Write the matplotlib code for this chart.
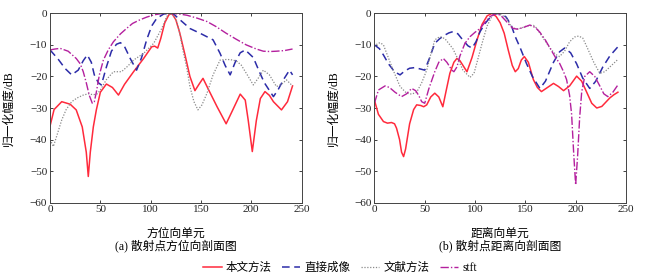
import numpy as np
import matplotlib
matplotlib.use('Agg')
import matplotlib.pyplot as plt

plt.rcParams['font.family'] = ['Liberation Serif', 'Noto Sans CJK SC']
plt.rcParams['axes.unicode_minus'] = False

# ---- (a) azimuth profile ----
a_red_x = [0, 4, 11.6, 20, 26, 32, 36, 38, 40, 43, 46, 50, 56, 62, 68, 74, 83, 93, 101, 104, 107, 110, 114, 118, 121,
           125, 129, 134, 139, 144, 148, 152, 158, 166, 175, 181, 189, 194, 197, 201, 205, 209, 213.6, 218, 222, 230, 236, 241]
a_red_y = [-35.7, -30.5, -28, -28.8, -30.6, -36, -44, -51.7, -44, -36, -30.6, -25, -22.4, -23.5, -25.9, -22.5, -18.5, -14.3, -10.6, -10.4, -11, -8, -3, -0.5, 0,
           -2, -6.3, -13, -20, -24.5, -22.5, -20.6, -24.5, -29.6, -35, -31, -25.6, -27.5, -34, -43.8, -34, -27, -24.8, -26, -28, -30.6, -28, -23]

a_blue_x = [0, 8, 15, 21.5, 28, 33, 37, 41, 44, 48, 51, 56, 61, 66, 70, 74, 80, 86, 91, 96, 101, 106, 113, 118, 122,
            129, 139, 149, 162, 169, 174, 179, 184, 189, 194, 202, 208, 213, 222, 227, 232, 238, 241]
a_blue_y = [-11.6, -14.5, -17.5, -19.5, -18, -15, -13.2, -15.5, -19.5, -22, -22.7, -17, -12, -9.8, -9.3, -10.5, -14.5, -18, -14, -8.4, -4, -1.6, -0.2, 0, 0,
            -2, -4.8, -6.3, -8.4, -12.7, -16.5, -19.5, -15.5, -12.5, -11.6, -14, -18.5, -22, -26.4, -24, -21, -18, -19.5]

a_gray_x = [0, 3.3, 7, 11.6, 16, 21.5, 27, 33, 38, 43, 47, 50, 56, 63, 71, 77, 83, 93, 103, 111, 116, 119,
            123, 126, 129, 132, 136, 139, 143, 147, 151, 156, 162, 169, 176, 182, 186, 190, 196, 202, 207, 212, 218, 225, 230, 235, 241]
a_gray_y = [-40, -42.2, -38.5, -33.8, -30.5, -28, -26.8, -25.9, -25.5, -25.8, -25.5, -24.3, -21, -18.5, -18.5, -16.8, -14.8, -12.7, -9.5, -4.8, -1, 0,
            -0.8, -2.6, -6.5, -11.6, -17.5, -23.2, -28, -30.6, -29, -25.3, -19.5, -14.8, -14.6, -14.8, -15.3, -16.4, -19.5, -22.7, -20.5, -18, -19.5, -23.2, -22.5, -21.1, -23]

a_stft_x = [0, 5, 10, 18, 26, 30, 33, 36, 39, 42, 44, 46, 49, 53, 58, 63, 70, 76, 82, 89, 96, 103, 110, 120,
            128, 136, 146, 156, 165, 175, 185, 195, 205, 212, 218.5, 225, 233, 241]
a_stft_y = [-11.6, -11.3, -11.1, -12, -14.3, -16, -18.5, -22, -26, -28.5, -28, -25, -19.5, -14.8, -11.5, -9, -6.5, -4.8, -3.2, -2.1, -1.2, -0.5, -0.1, 0,
            -0.2, -0.6, -1.5, -2.6, -4.2, -6.3, -8.2, -10, -11.3, -12, -12.1, -12, -11.8, -11.3]

# ---- (b) range profile ----
b_red_x = [0, 4, 9, 13, 17, 20, 22, 25, 27, 29, 31, 35, 39, 42, 46, 49, 52, 56, 60, 64, 68, 71, 75, 79, 82, 85, 88, 92,
           97, 102, 107, 112, 117, 121, 125, 129, 133, 137, 140, 143, 146, 149, 153, 158, 162, 166, 172, 178, 183, 188,
           194, 201, 206, 211, 216, 221, 226, 234, 238, 242]
b_red_y = [-27.5, -32, -34.3, -34.8, -34.6, -35, -36.4, -40, -44, -45.4, -43, -35, -30.5, -29, -29.2, -29.6, -29, -26.5, -25.3, -26.5, -29.6, -25, -19, -15.5, -14.3, -15, -16.5, -18.5,
           -14, -8.4, -3.5, -0.8, 0, -1, -3, -6.3, -11.6, -16.5, -18.5, -17.5, -14.8, -13.7, -15.5, -21, -23.5, -24.8, -23.5, -22.2, -23.2, -24.5,
           -23, -19.9, -21.5, -25, -28.5, -30, -29.5, -26.8, -25.8, -25]

b_blue_x = [0, 5, 9, 14, 20, 25.5, 30, 35, 40, 44, 50, 55, 60, 65, 70, 74, 78, 83, 88, 93, 97, 101, 105, 110, 115, 119, 123,
            127, 131, 136, 140, 145, 151, 157, 164.5, 170, 178, 184, 189, 195, 201, 207, 214, 220, 227, 234, 242]
b_blue_y = [-10, -11.2, -13.2, -16, -18.5, -19.5, -18.3, -17.4, -17.2, -17.5, -18, -14, -9.5, -8, -6.9, -6.2, -5.8, -6.5, -8.5, -10.3, -11, -9, -5.8, -3.2, -1.3, -0.3, 0,
            -0.3, -1.2, -3.8, -7.4, -11, -15.8, -20, -23.8, -21.5, -15.5, -12.2, -11, -12.5, -16, -20.5, -23.8, -21.5, -17, -13.5, -10.6]

b_gray_x = [0, 3, 5.6, 9, 12, 18, 25.5, 32, 37, 42, 47, 52, 56, 60, 65, 70, 78, 83, 88, 95, 99, 102, 107, 112, 117, 121.5,
            126, 130, 133, 136, 141, 146, 151, 158, 161, 167, 174.5, 180, 184, 189, 194, 199, 203, 207, 211, 218, 224, 229, 234, 242]
b_gray_y = [-10.6, -9.6, -9.3, -10, -12.5, -17.5, -23.2, -25.3, -25.6, -25, -22, -18, -13, -8.4, -7.4, -8, -11.2, -14.5, -18, -20.3, -19, -15.5, -9.5, -4, -0.8, 0,
            -0.5, -1.2, -2.5, -4.2, -5, -4.7, -4, -3.8, -4.6, -7.5, -11, -13, -13.7, -12, -9, -7.5, -7.2, -7.8, -10.5, -15.5, -19, -18.5, -17, -14.6]

b_stft_x = [0, 4, 10.6, 15, 20.5, 27, 32, 37, 41, 44, 47, 50, 54, 60, 64, 68.5, 72, 77, 79, 82, 85, 90, 95, 100, 105, 110, 115, 121.5,
            126, 131, 135, 138, 142, 148, 154.5, 160, 164.5, 170, 174.5, 180, 184, 188, 191, 194, 196, 198, 200, 202, 204, 206, 209, 214,
            219, 224, 228, 232, 237, 242]
b_stft_y = [-28.5, -24.3, -23, -23.5, -25, -26.4, -25.5, -23.8, -24.5, -26, -28, -28.5, -24, -18.5, -15.5, -14.3, -15.5, -18, -18.5, -17, -13.5, -9.5, -7.4, -6, -4.8, -2.8, -1, 0,
            -0.8, -2.5, -4, -4.8, -5, -4.5, -3.7, -4.5, -6, -8.5, -11, -14, -15.8, -18.5, -21, -26, -32, -44, -54.4, -45, -33, -25, -20, -18.5,
            -20, -23, -25.5, -26.4, -25, -22.7]

xlabels = ['方位向单元', '距离向单元']
captions = ['(a) 散射点方位向剖面图', '(b) 散射点距离向剖面图']
names = ['本文方法', '直接成像', '文献方法', 'stft']

colors = ['#ff2a3c', '#2c2ca8', '#8a8a8a', '#b4209e']
styles = ['-', (0, (5, 3)), (0, (1, 1.3)), (0, (6, 1.5, 1, 1.5))]
widths = [1.1, 1.1, 0.9, 1.0]

panels = [
    [(a_red_x, a_red_y), (a_blue_x, a_blue_y), (a_gray_x, a_gray_y), (a_stft_x, a_stft_y)],
    [(b_red_x, b_red_y), (b_blue_x, b_blue_y), (b_gray_x, b_gray_y), (b_stft_x, b_stft_y)],
]

fig = plt.figure(figsize=(6.5, 2.78), dpi=100)
axes = [fig.add_axes([0.077, 0.271, 0.387, 0.681]),
        fig.add_axes([0.576, 0.271, 0.387, 0.681])]

handles = []
for k, ax in enumerate(axes):
    for i, (xs, ys) in enumerate(panels[k]):
        h, = ax.plot(xs, ys, color=colors[i], linestyle=styles[i], linewidth=widths[i], label=names[i])
        if k == 0:
            handles.append(h)
    ax.set_xlim(0, 250)
    ax.set_ylim(-60, 0)
    ax.set_xticks([0, 50, 100, 150, 200, 250])
    ax.set_yticks([0, -10, -20, -30, -40, -50, -60])
    ax.set_yticklabels(['0', '−10', '−20', '−30', '−40', '−50', '−60'])
    ax.tick_params(direction='in', top=True, right=True, labelsize=8, length=2.5, width=0.6, pad=2,
                   colors='#222222')
    for s in ax.spines.values():
        s.set_linewidth(0.7)
        s.set_color('#444444')
    ax.set_ylabel('归一化幅度/dB', fontsize=8.5)
    ax.yaxis.set_label_coords(-0.14, 0.5)
    ax.set_xlabel(xlabels[k], fontsize=8.5)
    ax.xaxis.set_label_coords(0.5, -0.134)
    ax.text(0.5, -0.228, captions[k], transform=ax.transAxes, ha='center', va='center', fontsize=8.5)

fig.legend(handles=handles, loc='center', bbox_to_anchor=(0.523, 0.036), ncol=4, frameon=False,
           fontsize=8.3, handlelength=1.6, columnspacing=0.9, handletextpad=0.35)

fig.savefig('out.png', dpi=100)
